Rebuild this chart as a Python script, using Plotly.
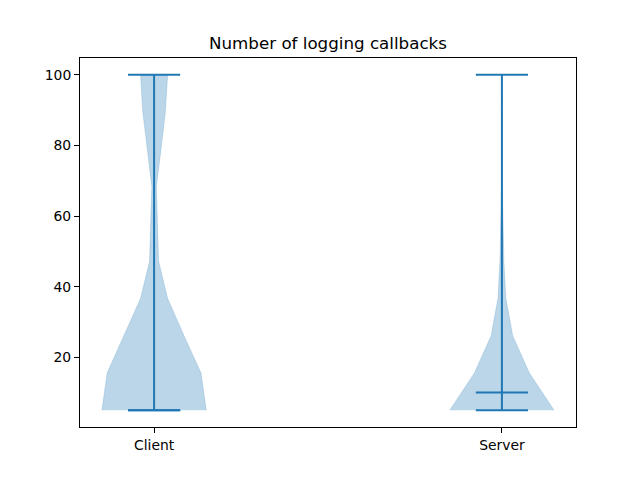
import plotly.graph_objects as go

categories = ["Client", "Server"]
positions = [1, 2]
# KDE evaluation levels (10 points between min and max)
levels = [5.0, 15.56, 26.11, 36.67, 47.22, 57.78, 68.33, 78.89, 89.44, 100.0]
client_halfwidth = [0.150, 0.135, 0.086, 0.039, 0.013, 0.010, 0.0066, 0.020, 0.0325, 0.039]
server_halfwidth = [0.150, 0.079, 0.031, 0.0115, 0.0057, 0.003, 0.0012, 0.0006, 0.0003, 0.0003]
mins = [5, 5]
maxs = [100, 100]
medians = [5, 10]
cap_half = 0.075

blue = "#1f77b4"
fig = go.Figure()

for pos, hw in zip(positions, [client_halfwidth, server_halfwidth]):
    xs = [pos + w for w in hw] + [pos - w for w in reversed(hw)]
    ys = levels + list(reversed(levels))
    fig.add_trace(go.Scatter(x=xs, y=ys, fill="toself", mode="lines",
                             line=dict(width=0.6, color="rgba(31,119,180,0.3)"),
                             fillcolor="rgba(31,119,180,0.3)", showlegend=False,
                             hoverinfo="skip"))

lx, ly = [], []
for pos, lo, hi, med in zip(positions, mins, maxs, medians):
    lx += [pos, pos, None]
    ly += [lo, hi, None]
    for v in (lo, hi, med):
        lx += [pos - cap_half, pos + cap_half, None]
        ly += [v, v, None]
fig.add_trace(go.Scatter(x=lx, y=ly, mode="lines", line=dict(color=blue, width=2),
                         showlegend=False, hoverinfo="skip"))

axis_common = dict(showline=True, linecolor="black", linewidth=1, mirror=True,
                   ticks="outside", ticklen=5, tickcolor="black", showgrid=False,
                   zeroline=False, tickfont=dict(size=13.9, color="black"))
fig.update_layout(
    width=640, height=480,
    margin=dict(l=80, r=64, t=58, b=53),
    plot_bgcolor="white", paper_bgcolor="white",
    font=dict(family="DejaVu Sans", color="black"),
    title=dict(text="Number of logging callbacks", x=0.5, xref="paper",
               y=1 - 43 / 480, yref="container", yanchor="middle",
               font=dict(size=16.7, color="black")),
    xaxis=dict(range=[0.787, 2.213], tickvals=positions, ticktext=categories, **axis_common),
    yaxis=dict(range=[0.25, 104.75], tickvals=[20, 40, 60, 80, 100], **axis_common),
)
fig.write_html("out.html")
